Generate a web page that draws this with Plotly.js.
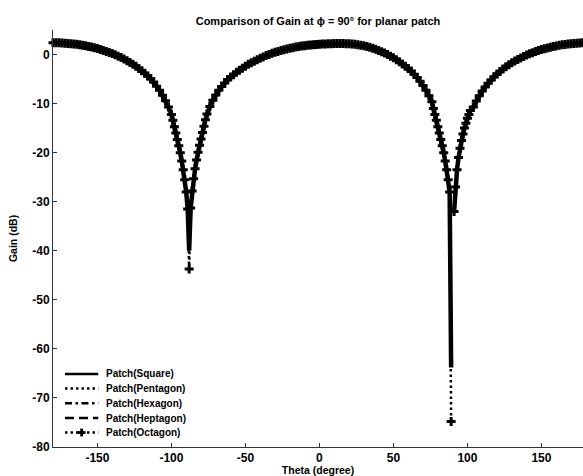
<!DOCTYPE html>
<html><head><meta charset="utf-8">
<script src="https://cdn.plot.ly/plotly-3.0.1.min.js"></script>
<style>html,body{margin:0;padding:0;background:#fff}#chart{width:583px;height:476px}</style>
</head><body><div id="chart"></div>
<script>
// Theta samples (degrees)
const theta = [
  -180,-178,-176,-174,-172,-170,-168,-166,-164,-162,-160,-158,-156,-154,-152,-150,-148,-146,-144,-142,
  -140,-138,-136,-134,-132,-130,-128,-126,-124,-122,-120,-118,-116,-114,-112,-110,-108,-106,-104,-102,-100,
  -99,-98,-97,-96,-95,-94,-93,-92,-91,-90,-89,-88,-87,-86,-85,-84,-83,-82,-81,-80,-79,-78,-77,
  -76,-74,-72,-70,-68,-66,-64,-62,-60,-58,-56,-54,-52,-50,-48,-46,-44,-42,-40,-38,-36,-34,-32,-30,-28,-26,
  -24,-22,-20,-18,-16,-14,-12,-10,-8,-6,-4,-2,0,2,4,6,8,10,12,14,16,18,20,22,24,26,28,30,32,34,36,38,40,
  42,44,46,48,50,52,54,56,58,60,62,64,66,68,70,72,74,76,
  77,78,79,80,81,82,83,84,85,86,87,88,89,90,91,92,93,94,95,96,97,98,99,100,101,
  102,104,106,108,110,112,114,116,118,120,122,124,126,128,130,132,134,136,138,140,142,144,146,148,150,
  152,154,156,158,160,162,164,166,168,170,172,174,176,178,180
];
// Gain (dB) shared by all five patches (they overlap); null samples are given per series below
const gainCommon = [
  2.4,2.4,2.38,2.35,2.32,2.27,2.21,2.15,2.07,1.98,1.88,1.77,1.65,1.52,1.37,1.21,1.04,0.84,0.64,0.42,
  0.19,-0.07,-0.34,-0.61,-0.93,-1.26,-1.61,-2.0,-2.39,-2.83,-3.3,-3.82,-4.36,-4.96,-5.6,-6.45,-7.3,-8.3,-9.4,-10.7,-12.2,
  -13.4,-14.7,-16.0,-17.3,-18.6,-20.0,-21.7,-23.5,-25.5,-28.0,-31.5,null,-31.3,-27.8,-25.3,-23.3,-21.5,-19.9,-18.5,-17.2,-15.9,-14.6,-13.3,
  -12.1,-10.6,-9.3,-8.25,-7.3,-6.5,-5.8,-5.1,-4.6,-4.1,-3.6,-3.2,-2.8,-2.4,-2.0,-1.7,-1.35,-1.05,-0.75,-0.48,-0.22,0.02,0.24,0.45,0.64,0.82,
  0.98,1.13,1.27,1.4,1.52,1.62,1.72,1.8,1.88,1.95,2.01,2.06,2.1,2.14,2.17,2.2,2.22,2.23,2.24,2.24,2.23,2.21,2.18,2.14,2.08,2.0,1.9,1.78,1.64,1.47,1.28,1.07,0.84,
  0.58,0.3,0.0,-0.33,-0.68,-1.06,-1.47,-1.92,-2.4,-2.85,-3.35,-4.0,-4.7,-5.45,-6.3,-7.3,-8.4,-9.6,-11.0,
  -12.2,-13.4,-14.7,-16.0,-17.3,-18.6,-20.0,-21.7,-23.5,-25.5,-28.0,-31.5,null,-32.0,-27.0,-23.5,-21.0,-19.1,-17.5,-16.2,-15.0,-14.0,-13.0,-12.2,-11.4,
  -10.7,-9.46,-8.38,-7.44,-6.6,-5.85,-5.18,-4.55,-3.97,-3.44,-2.97,-2.51,-2.09,-1.7,-1.34,-1.01,-0.69,-0.39,-0.11,0.14,0.38,0.6,0.81,1.0,1.18,
  1.34,1.49,1.64,1.76,1.87,1.97,2.06,2.14,2.21,2.27,2.32,2.35,2.38,2.4,2.4
];
const seriesNames = ['Patch(Square)','Patch(Pentagon)','Patch(Hexagon)','Patch(Heptagon)','Patch(Octagon)'];
const nullTheta = [-88, 89];
const nullDepthLeft  = [-40.0, -38.2, -36.5, -39.1, -43.7];
const nullDepthRight = [-63.8, -58.0, -55.0, -61.0, -74.8];
const xTickVals = [-150, -100, -50, 0, 50, 100, 150];
const yTickVals = [-80, -70, -60, -50, -40, -30, -20, -10, 0];

const FONT = '"Liberation Sans", Arial, Helvetica, sans-serif';
const dashes = ['solid', '2.5px,3px', '7px,3.5px,2.5px,3.5px', '9px,5px', '2.5px,3px'];
const widths = [4.5, 2.5, 2.5, 2.5, 2.5];

const iL = theta.indexOf(nullTheta[0]);
const iR = theta.indexOf(nullTheta[1]);
const traces = seriesNames.map((name, s) => {
  const y = gainCommon.slice();
  y[iL] = nullDepthLeft[s];
  y[iR] = nullDepthRight[s];
  const tr = {
    type: 'scatter', x: theta, y: y, name: name, showlegend: false,
    mode: s === 4 ? 'lines+markers' : 'lines',
    line: {color: '#000', width: widths[s], dash: dashes[s]},
    cliponaxis: false, hoverinfo: 'x+y'
  };
  if (s === 4) tr.marker = {symbol: 'cross', size: 7.5, color: '#000', line: {width: 0}};
  return tr;
});

// hand-drawn legend (compact rows like the original)
const rowY = [-65.1, -68.1, -71.1, -74.1, -77.05];
const lx0 = -171.9, lx1 = -149.4, ltx = -144.9;
const shapes = [];
const annotations = [];
seriesNames.forEach((name, s) => {
  shapes.push({type: 'line', xref: 'x', yref: 'y', x0: lx0, x1: lx1, y0: rowY[s], y1: rowY[s],
    line: {color: '#000', width: 2.5, dash: dashes[s]}});
  annotations.push({xref: 'x', yref: 'y', x: ltx, y: rowY[s], text: name, showarrow: false,
    xanchor: 'left', yanchor: 'middle', borderpad: 0,
    font: {family: FONT, size: 10, color: '#000', weight: 'bold'}});
});
const cx = (lx0 + lx1) / 2;
shapes.push({type: 'line', xref: 'x', yref: 'y', x0: cx - 2.65, x1: cx + 2.65, y0: rowY[4], y1: rowY[4], line: {color: '#000', width: 2.8}});
shapes.push({type: 'line', xref: 'x', yref: 'y', x0: cx, x1: cx, y0: rowY[4] - 0.8, y1: rowY[4] + 0.8, line: {color: '#000', width: 2.8}});

const axisCommon = {
  ticks: 'inside', ticklen: 4, tickwidth: 1, tickcolor: '#333',
  showline: true, linecolor: '#333', linewidth: 1, mirror: false,
  showgrid: false, zeroline: false, automargin: false,
  tickfont: {family: FONT, size: 12, color: '#000', weight: 'bold'}
};
const layout = {
  width: 583, height: 476,
  margin: {l: 53, r: 0, t: 30, b: 29, pad: 0},
  paper_bgcolor: '#fff', plot_bgcolor: '#fff',
  showlegend: false,
  title: {text: 'Comparison of Gain at ϕ = 90° for planar patch', x: 0.5, xref: 'paper', xanchor: 'center',
    y: 1 - 21 / 476, yref: 'container', yanchor: 'middle',
    font: {family: FONT, size: 11, color: '#000', weight: 'bold'}},
  xaxis: Object.assign({}, axisCommon, {range: [-180, 178.1], tickvals: xTickVals, ticktext: xTickVals.map(String),
    title: {text: 'Theta (degree)', standoff: 4, font: {family: FONT, size: 10.5, color: '#000', weight: 'bold'}}}),
  yaxis: Object.assign({}, axisCommon, {range: [-80, 5], tickvals: yTickVals, ticktext: yTickVals.map(String),
    title: {text: 'Gain (dB)', standoff: 12, font: {family: FONT, size: 10.5, color: '#000', weight: 'bold'}}}),
  shapes: shapes, annotations: annotations
};
Plotly.newPlot('chart', traces, layout, {displayModeBar: false, staticPlot: true});
</script></body></html>
